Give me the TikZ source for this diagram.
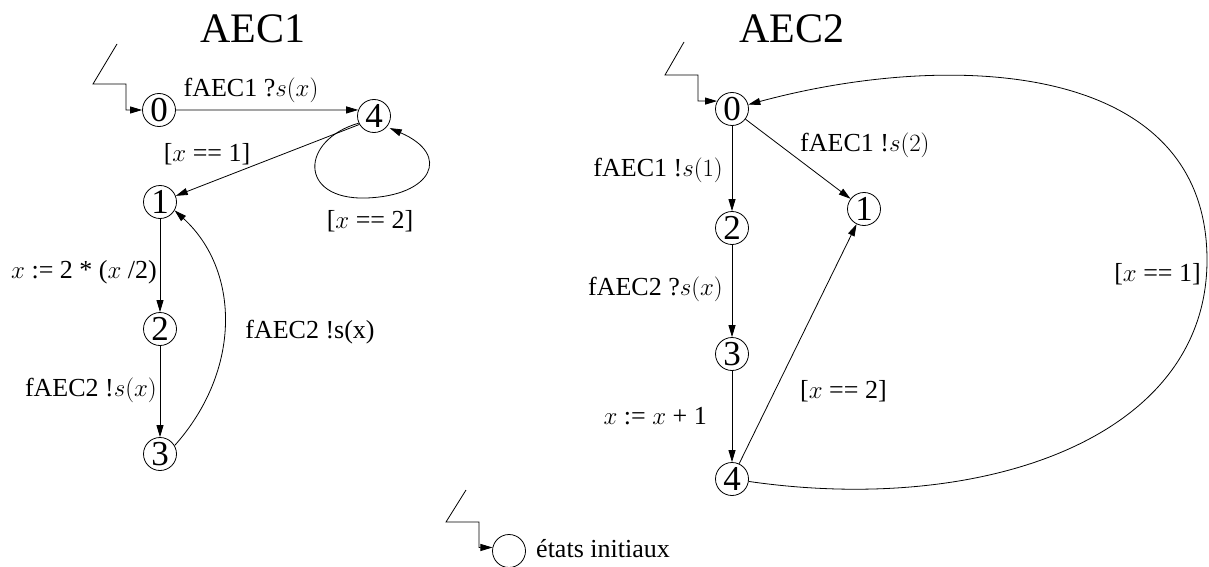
\documentclass[tikz,border=0pt]{standalone}
\usepackage{fontspec}
\setmainfont{Liberation Serif}
\usetikzlibrary{arrows.meta}
\begin{document}
\begin{tikzpicture}[x=1pt,y=-1pt,
  st/.style={circle,draw,line width=0.8pt,minimum size=33pt,inner sep=0pt,font=\fontsize{35}{35}\selectfont},
  lbl/.style={font=\fontsize{26}{30}\selectfont,inner sep=0pt},
  ttl/.style={font=\fontsize{42}{46}\selectfont,inner sep=0pt},
  arr/.style={line width=0.8pt,-{Triangle[length=12pt,width=7pt]}},
  plain/.style={line width=0.8pt}]
\useasboundingbox (0,0) rectangle (1209,567);

% titles
\node[ttl,anchor=base] (t1) at (253,43) {AEC1};
\node[ttl,anchor=base] (t2) at (792,43) {AEC2};

% AEC1 states
\node[st] (l0) at (159,110) {0};
\node[st] (l4) at (374,116) {4};
\node[st] (l1) at (160,202) {1};
\node[st] (l2) at (160,329) {2};
\node[st] (l3) at (160,454) {3};

% AEC2 states
\node[st] (r0) at (732,109) {0};
\node[st] (r1) at (864,209) {1};
\node[st] (r2) at (732,228) {2};
\node[st] (r3) at (732,354) {3};
\node[st] (r4) at (732,479) {4};

% legend state
\node[st] (lg) at (509,551) {};

% initial markers
\coordinate (li) at (117,44);
\coordinate (ri) at (684,42);
\coordinate (gi) at (466,490);
\draw[arr] (li) -- (93,84) -- (126,84) |- (l0);
\draw[arr] (ri) -- (665,75) -- (698,75) |- (r0.152);
\draw[arr] (gi) -- (446,522) -- (479,522) |- (lg.168);

% AEC1 transitions
\draw[arr] (l0) -- (l4.159);
\draw[arr] (l4.210) -- (l1);
\draw[arr,shorten >=3pt] (l4.205) .. controls (300,140) and (298,200) .. (366,198)
   .. controls (432,196) and (452,155) .. (l4.-40);
\draw[arr] (l1) -- (l2);
\draw[arr] (l2) -- (l3);
\draw[arr] (l3.30) .. controls (242,370) and (240,270) .. (l1.-30);

% AEC2 transitions
\draw[arr] (r0) -- (r2);
\draw[arr] (r2) -- (r3);
\draw[arr] (r3) -- (r4);
\draw[arr] (r0) -- (r1);
\draw[arr] (r4.65) -- (r1);
\draw[arr] (r4) .. controls (980,515) and (1207,440) .. (1207,260)
   .. controls (1207,60) and (950,50) .. (r0);

% AEC1 labels
\node[lbl,anchor=base] (a1) at (251,97) {fAEC1 ?$s(x)$};
\node[lbl,anchor=base] (a2) at (207,161) {[$x$ == 1]};
\node[lbl,anchor=base] (a3) at (370,228) {[$x$ == 2]};
\node[lbl,anchor=base east] (a4) at (157,278) {$x$ := 2 * ($x$ /2)};
\node[lbl,anchor=base east] (a5) at (157,396) {fAEC2 !$s(x)$};
\node[lbl,anchor=base] (a6) at (310,338) {fAEC2 !s(x)};

% AEC2 labels
\node[lbl,anchor=base east] (b1) at (723,176) {fAEC1 !$s(1)$};
\node[lbl,anchor=base west] (b2) at (800,151) {fAEC1 !$s(2)$};
\node[lbl,anchor=base east] (b3) at (723,295) {fAEC2 ?$s(x)$};
\node[lbl,anchor=base east] (b4) at (707,424) {$x$ := $x$ + 1};
\node[lbl,anchor=base west] (b5) at (800,398) {[$x$ == 2]};
\node[lbl,anchor=base east] (b6) at (1201,281) {[$x$ == 1]};

% legend label
\node[lbl,anchor=base west] (g1) at (536,557) {états initiaux};
\end{tikzpicture}
\end{document}
